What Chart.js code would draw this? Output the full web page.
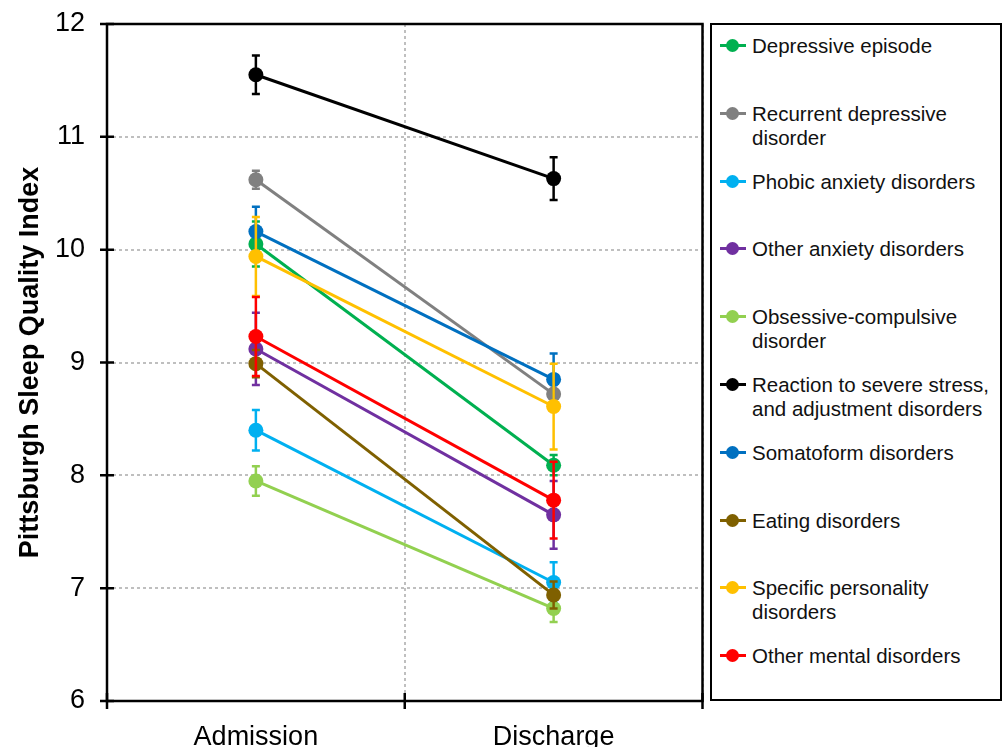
<!DOCTYPE html>
<html>
<head>
<meta charset="utf-8">
<script src="https://cdn.jsdelivr.net/npm/chart.js@4"></script>
<style>
  html, body { margin:0; padding:0; background:#fff; }
  body { width:1004px; height:747px; position:relative; overflow:hidden; font-family:"Liberation Sans", Arial, sans-serif; }
  #wrap { position:absolute; left:0; top:0; width:710px; height:747px; }
  #legend { position:absolute; left:710px; top:23px; width:288px; height:674px; border:2.5px solid #000; box-sizing:content-box; }
  .item { position:absolute; left:0; font-size:20.5px; line-height:24px; color:#111; }
  .item .txt { position:absolute; left:40px; top:0; white-space:nowrap; }
  .item .mk { position:absolute; left:8px; top:10px; width:26px; height:3px; }
  .item .dot { position:absolute; left:14px; top:5px; width:13px; height:13px; border-radius:50%; }
</style>
</head>
<body>
<div id="wrap"><canvas id="c" width="710" height="747"></canvas></div>
<div id="legend"></div>
<script>
// --- data ---
const categories = ['Admission', 'Discharge'];
const seriesNames = [
  'Depressive episode',
  'Recurrent depressive<br>disorder',
  'Phobic anxiety disorders',
  'Other anxiety disorders',
  'Obsessive-compulsive<br>disorder',
  'Reaction to severe stress,<br>and adjustment disorders',
  'Somatoform disorders',
  'Eating disorders',
  'Specific personality<br>disorders',
  'Other mental disorders'
];
const seriesColors = ['#00B050','#808080','#00B0F0','#7030A0','#92D050','#000000','#0070C0','#7F6000','#FFC000','#FF0000'];
const admission    = [10.05, 10.62, 8.40, 9.12, 7.95, 11.55, 10.16, 8.99, 9.94, 9.23];
const discharge    = [8.09, 8.72, 7.05, 7.65, 6.82, 10.63, 8.85, 6.94, 8.61, 7.78];
const admissionErr = [0.20, 0.08, 0.18, 0.32, 0.13, 0.17, 0.22, 0.12, 0.35, 0.35];
const dischargeErr = [0.09, 0.08, 0.18, 0.30, 0.12, 0.19, 0.23, 0.12, 0.38, 0.34];
const yTicks = [6, 7, 8, 9, 10, 11, 12];

const FONT = '"Liberation Sans", Arial, sans-serif';

// error bars, drawn under each dataset's own line
const errorBars = {
  id: 'errorBars',
  beforeDatasetDraw(chart, args) {
    const i = args.index;
    const meta = args.meta;
    const y = chart.scales.y;
    const errs = [admissionErr[i], dischargeErr[i]];
    const vals = [admission[i], discharge[i]];
    const ctx = chart.ctx;
    ctx.save();
    ctx.strokeStyle = seriesColors[i];
    ctx.lineWidth = 2.5;
    meta.data.forEach((pt, k) => {
      const top = y.getPixelForValue(vals[k] + errs[k]);
      const bot = y.getPixelForValue(vals[k] - errs[k]);
      ctx.beginPath();
      ctx.moveTo(pt.x, top); ctx.lineTo(pt.x, bot);
      ctx.moveTo(pt.x - 4, top); ctx.lineTo(pt.x + 4, top);
      ctx.moveTo(pt.x - 4, bot); ctx.lineTo(pt.x + 4, bot);
      ctx.stroke();
    });
    ctx.restore();
  }
};

// plot frame and tick marks crossing the axes
const frame = {
  id: 'frame',
  beforeDatasetsDraw(chart) {
    const {ctx, chartArea: a, scales} = chart;
    ctx.save();
    ctx.strokeStyle = '#000';
    ctx.lineWidth = 2.5;
    ctx.strokeRect(a.left, a.top, a.right - a.left, a.bottom - a.top);
    ctx.beginPath();
    yTicks.forEach(v => {
      const py = scales.y.getPixelForValue(v);
      ctx.moveTo(a.left - 7, py); ctx.lineTo(a.left + 7, py);
    });
    [a.left, (a.left + a.right) / 2, a.right].forEach(px => {
      ctx.moveTo(px, a.bottom - 8); ctx.lineTo(px, a.bottom + 8);
    });
    ctx.stroke();
    ctx.restore();
  }
};

const datasets = seriesNames.map((name, i) => ({
  label: name.replace('<br>', ' '),
  data: [admission[i], discharge[i]],
  borderColor: seriesColors[i],
  backgroundColor: seriesColors[i],
  borderWidth: 3,
  pointRadius: 7.5,
  pointHoverRadius: 7.5,
  pointBorderWidth: 0,
  tension: 0,
  order: seriesNames.length - i
}));

new Chart(document.getElementById('c'), {
  type: 'line',
  data: { labels: categories, datasets },
  options: {
    responsive: false,
    animation: false,
    layout: { padding: { top: 24, right: 2 } },
    plugins: { legend: { display: false }, tooltip: { enabled: false } },
    scales: {
      x: {
        offset: true,
        grid: { offset: true, color: '#BFBFBF', lineWidth: 2, drawTicks: false },
        border: { display: false, dash: [3, 3] },
        ticks: { color: '#000', font: { family: FONT, size: 27 }, padding: 20 },
        afterFit(s) { s.height = 46; s.paddingLeft = 0; s.paddingRight = 0; }
      },
      y: {
        min: 6, max: 12,
        afterBuildTicks(s) { s.ticks = yTicks.map(v => ({ value: v })); },
        grid: { color: '#BFBFBF', lineWidth: 2, drawTicks: false },
        border: { display: false, dash: [3, 3] },
        ticks: { color: '#000', font: { family: FONT, size: 27 }, padding: 22 },
        title: {
          display: true,
          text: 'Pittsburgh Sleep Quality Index',
          color: '#000',
          font: { family: FONT, size: 27, weight: 'bold' },
          padding: { top: 14, bottom: 0 }
        },
        afterFit(s) { s.width = 107; s.paddingTop = 0; s.paddingBottom = 0; }
      }
    }
  },
  plugins: [errorBars, frame]
});

// --- legend ---
(function(){
  const box = document.getElementById('legend');
  seriesNames.forEach((name, i) => {
    const el = document.createElement('div');
    el.className = 'item';
    el.style.top = (9 + i * 67.8) + 'px';
    el.innerHTML = '<div class="mk" style="background:' + seriesColors[i] + '"></div>' +
      '<div class="dot" style="background:' + seriesColors[i] + '"></div>' +
      '<div class="txt">' + name + '</div>';
    box.appendChild(el);
  });
})();
</script>
</body>
</html>
